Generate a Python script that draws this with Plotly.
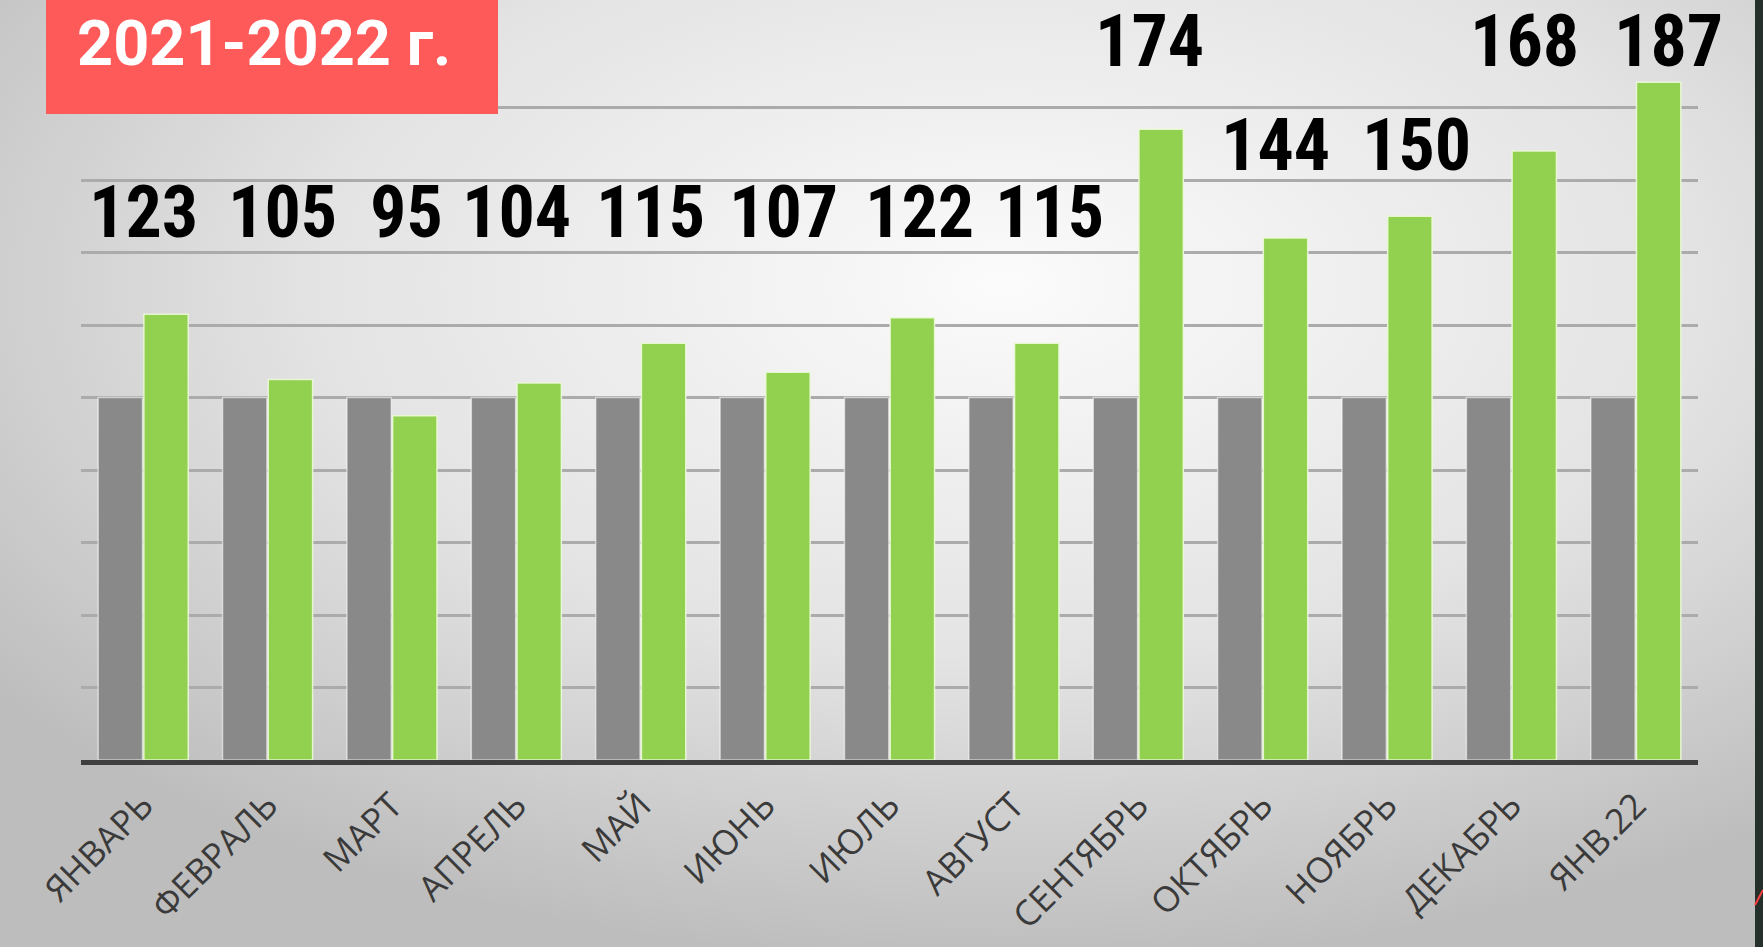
import base64
import plotly.graph_objects as go

# ---- data ----
categories = ["ЯНВАРЬ", "ФЕВРАЛЬ", "МАРТ", "АПРЕЛЬ", "МАЙ", "ИЮНЬ", "ИЮЛЬ",
              "АВГУСТ", "СЕНТЯБРЬ", "ОКТЯБРЬ", "НОЯБРЬ", "ДЕКАБРЬ", "ЯНВ.22"]
base_values = [100, 100, 100, 100, 100, 100, 100, 100, 100, 100, 100, 100, 100]
index_values = [123, 105, 95, 104, 115, 107, 122, 115, 174, 144, 150, 168, 187]
title_text = "2021-2022 г."

# ---- label layout (positions of value labels, not data) ----
label_row = [151, 151, 151, 151, 151, 151, 151, 151, 198.3, 169.5, 169.5, 198.3, 198.3]
label_xshift = [0, 15, 15, 0, 10, 18, 30, 36, 11, 13, 29, 13, 33]

W, H = 1763, 947
ML, MR, MT, MB = 81, 65, 35, 187
PW, PH = W - ML - MR, H - MT - MB

fig = go.Figure()
fig.add_trace(go.Bar(
    x=categories, y=base_values, name="база",
    marker=dict(color="#898989", line=dict(color="rgba(255,255,255,0.55)", width=1.5)),
    hoverinfo="x+y",
))
fig.add_trace(go.Bar(
    x=categories, y=index_values, name="индекс",
    marker=dict(color="#92d050", line=dict(color="rgba(235,250,215,0.9)", width=1.5)),
    hoverinfo="x+y",
))

ann = []
for c, v, row, sh in zip(categories, index_values, label_row, label_xshift):
    ann.append(dict(
        x=c, y=row, xref="x", yref="y", text=str(v), showarrow=False,
        xshift=sh, xanchor="center", yanchor="middle",
        font=dict(family="Liberation Sans Narrow, Roboto Condensed, Roboto, sans-serif",
                  size=72, color="#000000", weight="bold"),
    ))

svg = (f"<svg xmlns='http://www.w3.org/2000/svg' width='{W}' height='{H}'>"
       "<defs><radialGradient id='g' cx='0.57' cy='0.3' r='0.72'>"
       "<stop offset='0' stop-color='#fbfbfb'/>"
       "<stop offset='0.55' stop-color='#e3e3e3'/>"
       "<stop offset='1' stop-color='#bdbdbd'/></radialGradient></defs>"
       "<rect width='100%' height='100%' fill='url(#g)'/></svg>")
src = "data:image/svg+xml;base64," + base64.b64encode(svg.encode()).decode()

shapes = [
    # red title box
    dict(type="rect", xref="paper", yref="paper",
         x0=(46 - ML) / PW, x1=(498 - ML) / PW,
         y0=1 + (MT - 114) / PH, y1=1 + MT / PH + 0.01,
         fillcolor="#ff5a5a", line=dict(width=0), layer="above"),
    # dark frame strip on the right
    dict(type="rect", xref="paper", yref="paper",
         x0=(1755 - ML) / PW, x1=(W - ML + 2) / PW,
         y0=-MB / PH - 0.01, y1=1 + MT / PH + 0.01,
         fillcolor="#26302a", line=dict(width=0), layer="above"),
    # small red mark at the right edge
    dict(type="line", xref="paper", yref="paper",
         x0=(1755 - ML) / PW, x1=(W - ML) / PW,
         y0=(760 - 905) / PH, y1=(760 - 890) / PH,
         line=dict(color="#ff4040", width=2), layer="above"),
]

ann.append(dict(
    xref="paper", yref="paper", x=(75 - ML) / PW, y=1 + (MT - 44) / PH,
    text=title_text, showarrow=False, xanchor="left", yanchor="middle",
    font=dict(family="Roboto, sans-serif", size=63, color="#ffffff", weight="bold"),
))

fig.update_layout(
    width=W, height=H, autosize=False,
    margin=dict(l=ML, r=MR, t=MT, b=MB, pad=0, autoexpand=False),
    barmode="group", bargap=0.265, bargroupgap=0.03,
    showlegend=False,
    paper_bgcolor="#d6d6d6", plot_bgcolor="rgba(0,0,0,0)",
    images=[dict(source=src, xref="paper", yref="paper",
                 x=-ML / PW, y=1 + MT / PH, sizex=W / PW, sizey=H / PH,
                 xanchor="left", yanchor="top", sizing="stretch", layer="below")],
    shapes=shapes,
    annotations=ann,
    xaxis=dict(
        range=[-0.5, len(categories) - 0.5], autorange=False,
        showline=True, linecolor="#3f3f3f", linewidth=5,
        tickangle=-45, ticks="", showgrid=False,
        tickfont=dict(family="Open Sans, sans-serif", size=35, color="#3a3a3a"),
        ticklabelstandoff=6, automargin=False,
    ),
    yaxis=dict(
        range=[0, 200], autorange=False, dtick=20, showticklabels=False, ticks="",
        showgrid=True, gridcolor="#ababab", gridwidth=3,
        zeroline=False, showline=False, automargin=False,
    ),
)

fig.write_html("out.html", config={"displayModeBar": False},
               post_script="document.body.style.margin='0';document.body.style.overflow='hidden';")
